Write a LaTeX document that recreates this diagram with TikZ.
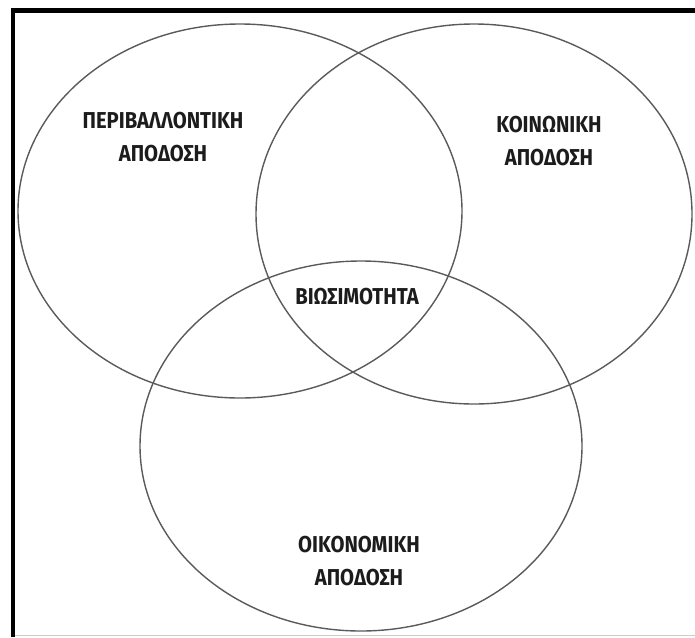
\documentclass[tikz,border=0pt]{standalone}
\usepackage{fontspec}
\newfontfamily\lblfont[FakeStretch=0.88]{Fira Sans}
\definecolor{ringgray}{HTML}{5A5A5A}
\definecolor{textdark}{HTML}{1C1C1C}
\tikzset{
  ring/.style={draw=ringgray, line width=1.4pt},
  lbl/.style={font=\lblfont\bfseries\fontsize{23}{33}\selectfont, text=textdark, align=center, inner sep=0pt}
}
\begin{document}
\begin{tikzpicture}[x=1pt,y=-1pt]

\useasboundingbox
(0,0)
rectangle
(695,637);

% frame
\fill[black]
(11,8)
rectangle
(15,637);

\fill[black]
(11,8)
rectangle
(695,13);

\draw[gray!40, line width=1pt]
(15,635.5)
--
(695,635.5);

% three rings
\draw[ring]
(240,211)
ellipse
[x radius=222, y radius=187];

\draw[ring]
(474,214)
ellipse
[x radius=218, y radius=190];

\draw[ring]
(361,446)
ellipse
[x radius=221, y radius=185];

% labels
\node[lbl]
(perib)
at (163,137)
{ΠΕΡΙΒΑΛΛΟΝΤΙΚΗ\\ΑΠΟΔΟΣΗ};

\node[lbl]
(koin)
at (549,141)
{ΚΟΙΝΩΝΙΚΗ\\ΑΠΟΔΟΣΗ};

\node[lbl]
(biosim)
at (357,297)
{ΒΙΩΣΙΜΟΤΗΤΑ};

\node[lbl]
(oikon)
at (359,561)
{ΟΙΚΟΝΟΜΙΚΗ\\ΑΠΟΔΟΣΗ};

\end{tikzpicture}
\end{document}
